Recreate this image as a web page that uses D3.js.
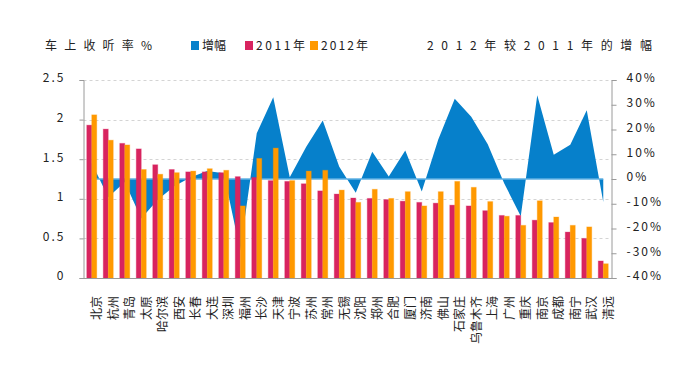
<!DOCTYPE html>
<html>
<head>
<meta charset="utf-8">
<script src="https://cdn.jsdelivr.net/npm/d3@7"></script>
<style>
  body { margin: 0; background: #fff; }
  text { font-family: "Noto Sans CJK SC", "Noto Sans", sans-serif; fill: #222; }
</style>
</head>
<body>
<svg class="chart"></svg>
<script>
var cities = ["北京", "杭州", "青岛", "太原", "哈尔滨", "西安", "长春", "大连", "深圳", "福州",
  "长沙", "天津", "宁波", "苏州", "常州", "无锡", "沈阳", "郑州", "合肥", "厦门",
  "济南", "佛山", "石家庄", "乌鲁木齐", "上海", "广州", "重庆", "南京", "成都", "南宁",
  "武汉", "清远"];
var rate2011 = [1.93, 1.88, 1.70, 1.63, 1.43, 1.37, 1.34, 1.34, 1.33, 1.28,
  1.27, 1.23, 1.22, 1.19, 1.10, 1.06, 1.01, 1.005, 0.99, 0.97,
  0.955, 0.945, 0.92, 0.91, 0.85, 0.79, 0.79, 0.73, 0.70, 0.58,
  0.50, 0.215];
var rate2012 = [2.06, 1.74, 1.68, 1.37, 1.31, 1.33, 1.35, 1.38, 1.36, 0.91,
  1.51, 1.64, 1.23, 1.35, 1.36, 1.11, 0.955, 1.12, 1.005, 1.09,
  0.91, 1.09, 1.22, 1.145, 0.965, 0.78, 0.665, 0.975, 0.77, 0.665,
  0.645, 0.18];
var growth = [6.5, -7.4, -1.2, -16, -8.4, -2.9, 0.7, 3.2, 2.3, -29,
  18.5, 33, 0.7, 13, 23.6, 5, -5.6, 11, 1, 11.5,
  -5, 16, 32.4, 25.2, 14, -1.8, -15, 33.8, 9.8, 13.8,
  27.8, -9.3];
var leftTicks = [0, 0.5, 1, 1.5, 2, 2.5];
var rightTicks = [-40, -30, -20, -10, 0, 10, 20, 30, 40];

var width = 700,
  height = 384,
  plotLeft = 83.5,
  plotRight = 611.5,
  plotTop = 80,
  plotBottom = 278,
  barW = 5;

var blue = "#0680cb",
  red = "#d8245f",
  orange = "#ff9900";

var svg = d3.select(".chart").attr("width", width).attr("height", height);

var x = d3.scaleBand().domain(cities).range([plotLeft, plotRight]);
var yL = d3.scaleLinear().domain([0, 2.5]).range([plotBottom, plotTop]);
var yR = d3.scaleLinear().domain([-40, 40]).range([plotBottom, plotTop]);

function cx(d) {
  return x(d) + x.bandwidth() / 2;
}

// dashed grid
svg.append("g")
  .selectAll("line")
  .data(leftTicks.slice(1))
  .enter()
  .append("line")
  .attr("x1", plotLeft)
  .attr("x2", plotRight)
  .attr("y1", function(d) { return Math.round(yL(d)) + 0.5; })
  .attr("y2", function(d) { return Math.round(yL(d)) + 0.5; })
  .attr("stroke", "#d4d4d4")
  .attr("stroke-dasharray", "3,3");

// growth area behind the bars
var pts = cities.map(function(c, i) { return { c: c, g: growth[i] }; });
var area = d3.area()
  .x(function(d) { return cx(d.c); })
  .y0(yR(0))
  .y1(function(d) { return yR(d.g); });
svg.append("path")
  .datum(pts)
  .attr("d", area)
  .attr("fill", blue);

svg.append("line")
  .attr("x1", cx(cities[0]))
  .attr("x2", cx(cities[cities.length - 1]))
  .attr("y1", yR(0))
  .attr("y2", yR(0))
  .attr("stroke", "#5fb0e3")
  .attr("stroke-width", 1.5);

// bars
var groups = svg.append("g")
  .selectAll("g")
  .data(cities)
  .enter()
  .append("g");

groups.append("rect")
  .attr("x", function(d) { return cx(d) - barW; })
  .attr("width", barW)
  .attr("y", function(d, i) { return yL(rate2011[i]); })
  .attr("height", function(d, i) { return plotBottom - yL(rate2011[i]); })
  .attr("fill", red)
  .attr("stroke", red)
  .attr("stroke-opacity", 0.3);

groups.append("rect")
  .attr("x", function(d) { return cx(d); })
  .attr("width", barW)
  .attr("y", function(d, i) { return yL(rate2012[i]); })
  .attr("height", function(d, i) { return plotBottom - yL(rate2012[i]); })
  .attr("fill", orange)
  .attr("stroke", orange)
  .attr("stroke-opacity", 0.3);

// axes
var axisL = d3.axisLeft(yL).tickValues(leftTicks).tickSize(4).tickPadding(14)
  .tickFormat(function(d) { return String(d); });
var gL = svg.append("g").attr("transform", "translate(" + plotLeft + ",0)").call(axisL);

var axisR = d3.axisRight(yR).tickValues(rightTicks).tickSize(5).tickPadding(10)
  .tickFormat(function(d) { return d + "%"; });
var gR = svg.append("g").attr("transform", "translate(" + plotRight + ",0)").call(axisR);

var axisB = d3.axisBottom(x).tickSize(0).tickFormat("");
var gB = svg.append("g").attr("transform", "translate(0," + plotBottom + ")").call(axisB);

[gL, gR, gB].forEach(function(g) {
  g.selectAll(".domain").attr("stroke", "#9a9a9a");
  g.selectAll(".tick line").attr("stroke", "#9a9a9a");
  g.selectAll("text")
    .attr("font-family", "'Liberation Mono', monospace")
    .attr("font-size", 12)
    .attr("letter-spacing", 2)
    .attr("dy", "0.15em")
    .attr("fill", "#222");
});

// city labels
svg.append("g")
  .selectAll("text")
  .data(cities)
  .enter()
  .append("text")
  .attr("transform", function(d) {
    return "translate(" + (cx(d) + 5) + ",296) rotate(-90)";
  })
  .attr("text-anchor", "end")
  .attr("dy", "0.36em")
  .attr("font-size", 12)
  .text(function(d) { return d; });

// titles and legend
svg.append("text")
  .attr("x", 45)
  .attr("y", 50)
  .attr("font-size", 12)
  .attr("textLength", 107)
  .attr("lengthAdjust", "spacing")
  .text("车上收听率%");

svg.append("text")
  .attr("x", 427)
  .attr("y", 50)
  .attr("font-size", 12)
  .attr("textLength", 225)
  .attr("lengthAdjust", "spacing")
  .text("2012年较2011年的增幅");

var legend = [
  { name: "增幅", color: blue, x: 191, len: 24 },
  { name: "2011年", color: red, x: 245, len: 49 },
  { name: "2012年", color: orange, x: 310, len: 47 }
];
var lg = svg.append("g")
  .selectAll("g")
  .data(legend)
  .enter()
  .append("g");
lg.append("rect")
  .attr("x", function(d) { return d.x; })
  .attr("y", 41)
  .attr("width", 8)
  .attr("height", 9)
  .attr("fill", function(d) { return d.color; });
lg.append("text")
  .attr("x", function(d) { return d.x + 11; })
  .attr("y", 50)
  .attr("font-size", 12)
  .attr("textLength", function(d) { return d.len; })
  .attr("lengthAdjust", "spacing")
  .text(function(d) { return d.name; });
</script>
</body>
</html>
